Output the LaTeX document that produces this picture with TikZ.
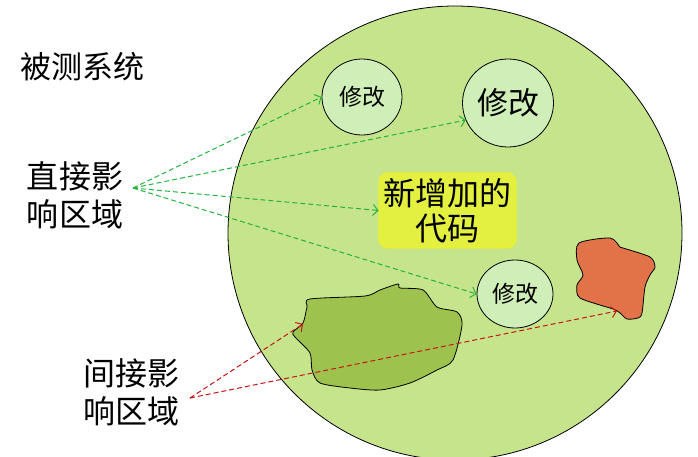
\documentclass[tikz,border=0pt]{standalone}
\usepackage{fontspec}
\newfontfamily\cjk{Noto Sans CJK SC}
\usetikzlibrary{shapes.geometric,arrows.meta}
\definecolor{bigc}{RGB}{198,228,139}
\definecolor{smallc}{RGB}{208,238,184}
\definecolor{boxy}{RGB}{228,240,64}
\definecolor{boxedge}{RGB}{245,245,20}
\definecolor{blobg}{RGB}{158,194,78}
\definecolor{blobo}{RGB}{226,114,72}
\definecolor{arrg}{RGB}{34,180,60}
\definecolor{arrr}{RGB}{200,20,20}
\begin{document}
\begin{tikzpicture}[x=1pt,y=-1pt,
  lbl/.style={font=\cjk\fontsize{32}{38}\selectfont, align=center, inner sep=0pt},
  mod/.style={ellipse, draw=black, line width=0.8pt, fill=smallc, inner sep=0pt},
  blob/.style={draw=black, line width=0.8pt},
  ga/.style={draw=arrg, line width=1pt, dash pattern=on 5pt off 3pt, -{Straight Barb[length=5pt,width=11pt]}},
  ra/.style={draw=arrr, line width=1pt, dash pattern=on 5pt off 3pt, -{Straight Barb[length=5pt,width=11pt]}}
]
\useasboundingbox (0,0) rectangle (698,457);
\fill[white] (0,0) rectangle (698,457);
% system circle
\node[circle, draw=black, line width=0.8pt, fill=bigc, minimum size=454pt, inner sep=0pt] (sys) at (455,233) {};
% blobs
\draw[blob, fill=blobg] plot[smooth cycle, tension=0.45] coordinates {
 (310,299) (365,296) (380,290) (398,284) (400,288) (423,290) (437,307) (457,312)
 (462,325) (453,360) (437,370) (410,383) (380,390) (350,388) (320,383) (312,370)
 (310,353) (295,337) (293,332) (303,323) (307,307)};
\draw[blob, fill=blobo] plot[smooth cycle, tension=0.45] coordinates {
 (579,243) (610,238) (620,247) (623,248) (650,257) (655,267) (650,275) (645,287)
 (642,313) (638,318) (627,319) (620,313) (613,309) (580,298) (577,285) (583,275) (577,260)};
% nodes
\node[mod, minimum width=80pt, minimum height=76pt, font=\cjk\fontsize{23}{26}\selectfont] (c1) at (362,97) {修改};
\node[mod, minimum width=91pt, minimum height=88pt, font=\cjk\fontsize{31}{34}\selectfont] (c2) at (508,103) {修改};
\node[mod, minimum width=76pt, minimum height=68pt, font=\cjk\fontsize{23}{26}\selectfont] (c3) at (515,294) {修改};
\node[draw=boxedge, line width=0.8pt, fill=boxy, rounded corners=9pt, minimum width=137pt, minimum height=75pt,
      align=center, inner sep=0pt, font=\cjk\fontsize{32}{35}\selectfont] (new) at (447.5,210.5) {新增加的\\代码};
\node[lbl, font=\cjk\fontsize{31}{38}\selectfont] (sut) at (82,67) {被测系统};
\node[lbl] (direct) at (75,195) {直接影\\响区域};
\node[lbl] (indirect) at (131,392) {间接影\\响区域};
% connector ends
\coordinate (gsrc) at (133,188);
\coordinate (rsrc) at (190,398);
\coordinate (gtip) at (303,324);
\coordinate (otip) at (617,311);
% arrows
\draw[ga] (gsrc) -- (c1.west);
\draw[ga] (gsrc) -- (c2.202);
\draw[ga] (gsrc) -- (new.west);
\draw[ga] (gsrc) -- (c3.west);
\draw[ra] (rsrc) -- (gtip);
\draw[ra] (rsrc) -- (otip);
\end{tikzpicture}
\end{document}
